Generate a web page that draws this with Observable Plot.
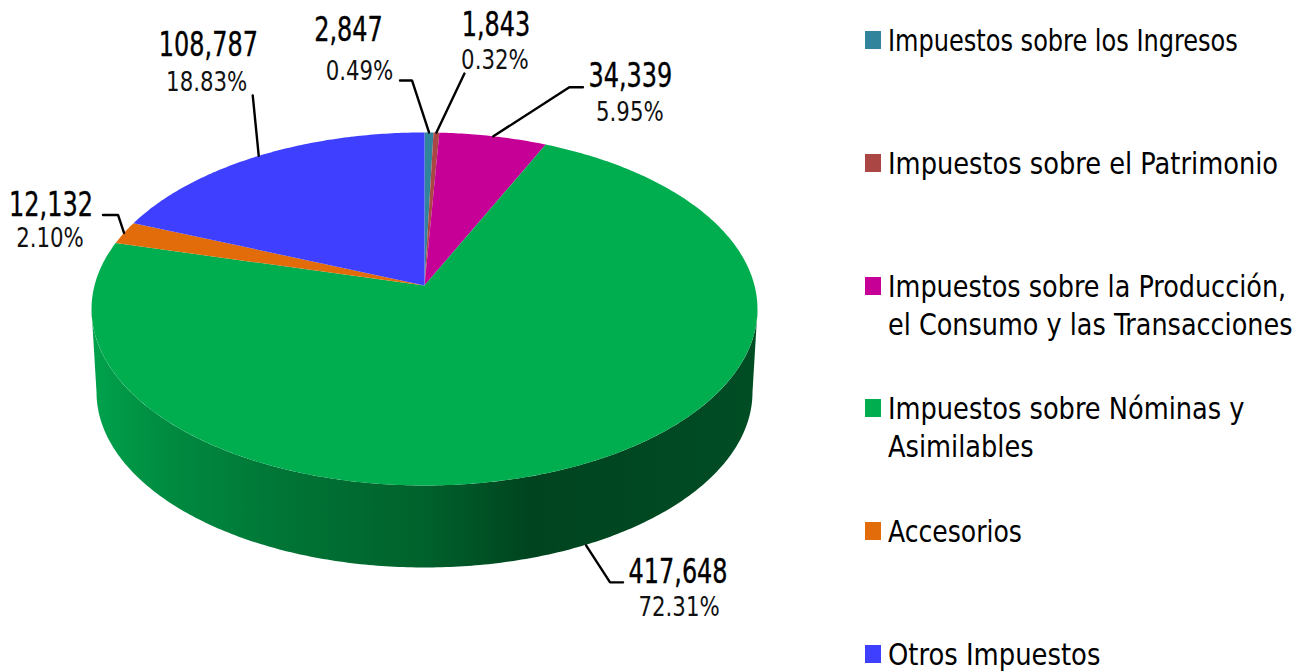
<!DOCTYPE html>
<html lang="es">
<head>
<meta charset="utf-8">
<script src="https://cdn.jsdelivr.net/npm/d3@7"></script>
<script src="https://cdn.jsdelivr.net/npm/@observablehq/plot@0.6"></script>
<style>
html,body{margin:0;padding:0;background:#fff;overflow:hidden}
#wrap{position:relative;width:1309px;height:671px}
#legend{position:absolute;left:0;top:0;font-family:"DejaVu Sans",sans-serif;font-stretch:condensed;font-size:31px;line-height:38px;color:#000}
.item{position:absolute;left:888px;white-space:nowrap;transform-origin:left top}
.sw{position:absolute;left:865px;width:16px;height:18px}
</style>
</head>
<body>
<div id="wrap"><div id="chart"></div><div id="legend"></div></div>
<script>
// ---- data
const categories = ["Impuestos sobre los Ingresos","Impuestos sobre el Patrimonio","Impuestos sobre la Producción,\nel Consumo y las Transacciones","Impuestos sobre Nóminas y\nAsimilables","Accesorios","Otros Impuestos"];
const amounts = [2847,1843,34339,417648,12132,108787];
const amountLabels = ["2,847","1,843","34,339","417,648","12,132","108,787"];
const shareLabels = ["0.49%","0.32%","5.95%","72.31%","2.10%","18.83%"];
const colors = ["#31849B","#AA4644","#C60097","#00AE50","#E26B0A","#3F3FFF"];
const wallStops = [[91,"#00A24C"],[170,"#008A40"],[300,"#007234"],[420,"#00622C"],[530,"#00441F"],[650,"#004822"],[757,"#004D24"]];

// ---- layout: perspective disc seen from above
const W = 1309, H = 671;
const cx = 424, apexY = 285, A = 330, B = 173.4, K = 0.133, depth = 82;
const rimOf = th => {            // th: clockwise from the top of the disc
  const u = Math.sin(th), v = Math.cos(th), d = 1 + K * v;
  return [cx + A * u / d, apexY - B * v / d];
};
const arcs = d3.pie().sort(null).value(d => d)(amounts);
const slices = arcs.flatMap((a, i) => {
  const n = Math.max(2, Math.ceil((a.endAngle - a.startAngle) * 90));
  const pts = [[cx, apexY]];
  for (let j = 0; j <= n; j++) pts.push(rimOf(a.startAngle + (a.endAngle - a.startAngle) * j / n));
  return pts.map(([x, y]) => ({x, y, i}));
});

// side wall: lower half of the top edge, back along the bottom edge
const topE = {cy: 308.5, rx: 333, ry: 176.5}, botE = {cy: 391.5, rx: 328, ry: 175.5};
const halfEdge = (e, n) => d3.range(n + 1).map(s => {
  const t = Math.PI * s / n;
  return {x: cx - e.rx * Math.cos(t), y: e.cy + e.ry * Math.sin(t)};
});
const wall = [...halfEdge(topE, 240), ...halfEdge(botE, 240).reverse()];

// label placement relative to each slice's rim point (pixels)
const numOff = [[-80.5,-102],[59.5,-107],[137,-60],[92,27],[-73,-28],[-50.4,-110.5]];
const pctOff = [[-69.5,-61],[58.5,-72],[136.5,-24],[93,62],[-74,6],[-52,-73.5]];
const leaderOff = [[[-17,-52],[-29,-52]],[[28,-59]],[[76,-49],[89.6,-49]],[[24,37],[37,37]],[[-6,-18],[-21,-18]],[[-6,-60.5]]];
const rims = arcs.map((a, i) => {
  const [x, y] = rimOf((a.startAngle + a.endAngle) / 2);
  return [x, i === 3 ? y + depth : y];
});
const numData = amountLabels.map((t, i) => ({t, x: rims[i][0] + numOff[i][0], y: rims[i][1] + numOff[i][1]}));
const pctData = shareLabels.map((t, i) => ({t, x: rims[i][0] + pctOff[i][0], y: rims[i][1] + pctOff[i][1]}));
const leaders = rims.flatMap((r, i) => [[0, 0], ...leaderOff[i]].map(o => ({x: r[0] + o[0], y: r[1] + o[1], i})));

const wallGradient = () => {
  const defs = d3.create("svg:defs");
  const g = defs.append("linearGradient").attr("id", "wallG").attr("gradientUnits", "userSpaceOnUse")
    .attr("x1", wallStops[0][0]).attr("x2", wallStops[wallStops.length - 1][0]).attr("y1", 0).attr("y2", 0);
  const span = wallStops[wallStops.length - 1][0] - wallStops[0][0];
  wallStops.forEach(([x, c]) => g.append("stop").attr("offset", (x - wallStops[0][0]) / span).attr("stop-color", c));
  return defs.node();
};

const font = '"DejaVu Sans",sans-serif';
const chart = Plot.plot({
  width: W, height: H, margin: 0,
  style: {background: "#fff"},
  x: {domain: [0, W], range: [0, W], axis: null},
  y: {domain: [0, H], range: [0, H], axis: null},
  marks: [
    wallGradient,
    Plot.line(wall, {x: "x", y: "y", fill: "url(#wallG)", stroke: "none", curve: "linear-closed"}),
    Plot.line(slices, {x: "x", y: "y", z: "i", fill: d => colors[d.i], stroke: "none", curve: "linear-closed"}),
    Plot.line(leaders, {x: "x", y: "y", z: "i", stroke: "#000", strokeWidth: 2.4, strokeLinejoin: "miter"}),
    Plot.text(numData, {x: "x", y: "y", text: "t", fontFamily: font, fontSize: 34, fill: "#000", stroke: "#000", strokeWidth: 0.4}),
    Plot.text(pctData, {x: "x", y: "y", text: "t", fontFamily: font, fontSize: 26, fill: "#111"})
  ]
});
document.getElementById("chart").appendChild(chart);

// the reference's type is narrower than any installed face: squeeze it horizontally
const squeeze = [0.705, 0.82];
d3.select(chart).selectAll('g[aria-label="text"]').each(function (_, k) {
  d3.select(this).selectAll("text").attr("transform", function () {
    return `${this.getAttribute("transform") || ""} scale(${squeeze[k]},1)`;
  });
});

// legend, one row per category
const legendSqueeze = [0.862, 0.922, 0.915, 0.92, 0.9, 0.927];
const legend = d3.select("#legend");
categories.forEach((c, i) => {
  const top = 21 + 122.8 * i;
  legend.append("span").attr("class", "sw").style("top", (top + 10) + "px").style("background", colors[i]);
  const row = legend.append("div").attr("class", "item").style("top", top + "px").style("transform", `scaleX(${legendSqueeze[i]})`);
  c.split("\n").forEach(line => row.append("div").text(line));
});
</script>
</body>
</html>
